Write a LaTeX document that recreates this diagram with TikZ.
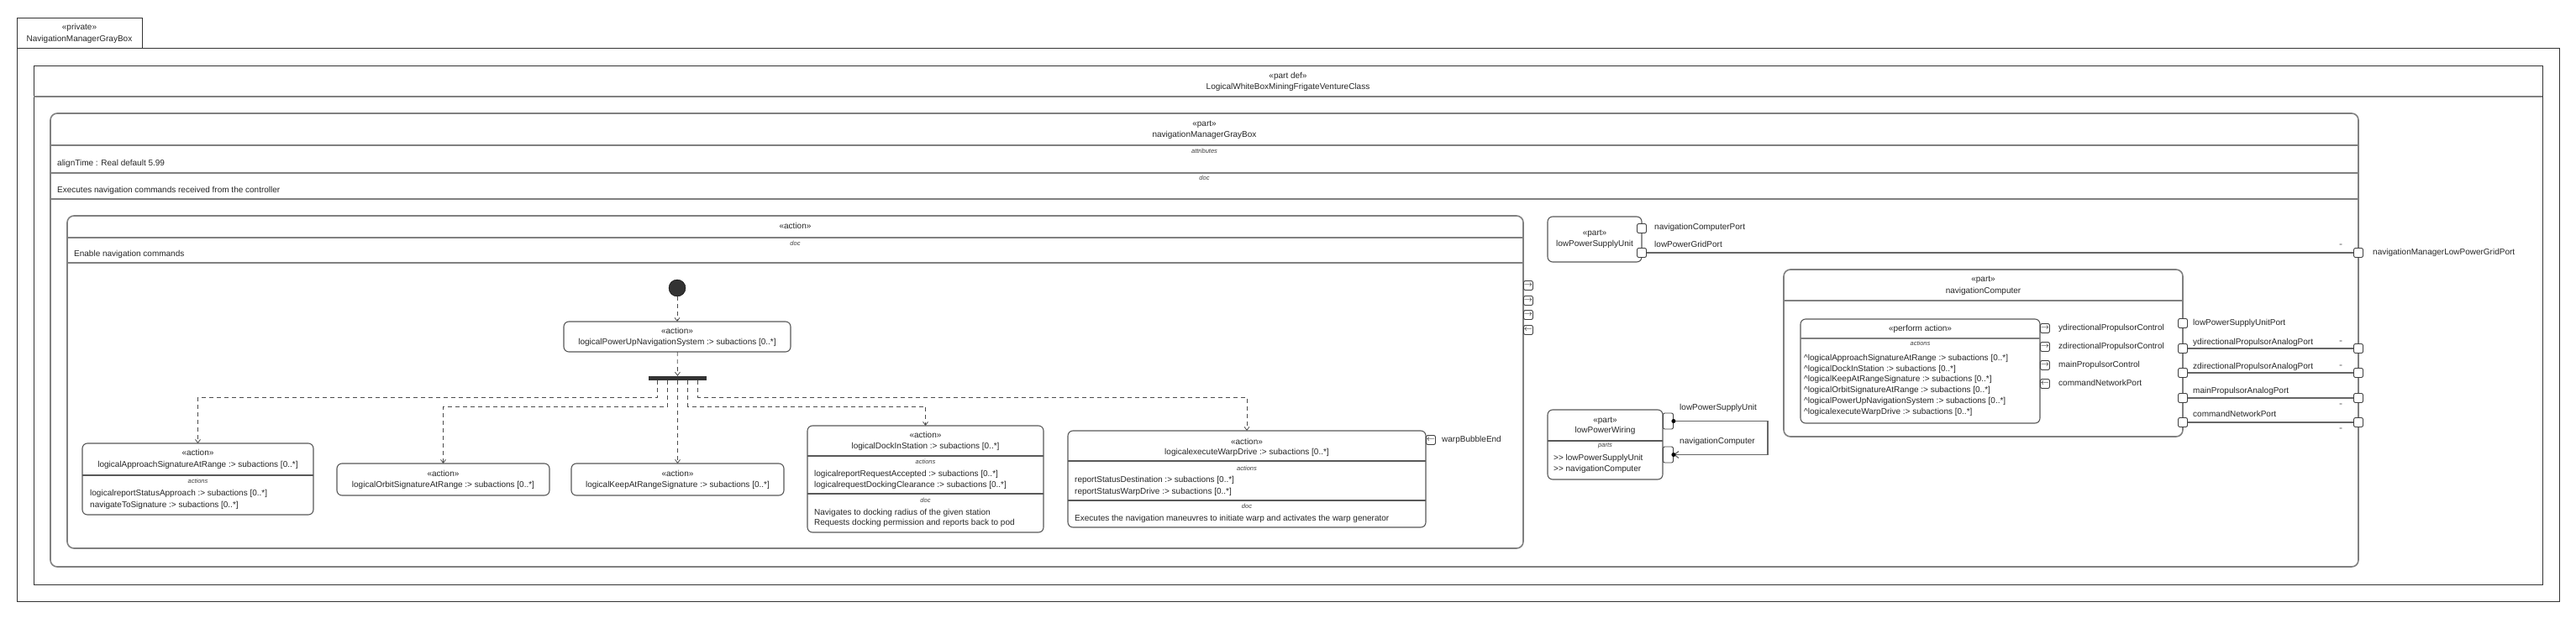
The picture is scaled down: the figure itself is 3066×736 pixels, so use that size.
\documentclass[tikz,border=0pt]{standalone}
\usepackage{fontspec}
\setmainfont{Liberation Sans}
\usetikzlibrary{arrows.meta, positioning, calc}

\tikzset{
  frame/.style={draw=black!80, line width=1pt, inner sep=0pt, outer sep=0pt, anchor=north west},
  partbox/.style={draw=black!50, line width=1.6pt, rounded corners=8pt, fill=white, inner sep=0pt, outer sep=0pt, anchor=north west},
  actbox/.style={draw=black!65, line width=1.1pt, rounded corners=6pt, fill=white, inner sep=0pt, outer sep=0pt, anchor=north west},
  actnode/.style={actbox, anchor=center, align=center, font=\fontsize{10}{13}\selectfont, text=black!85},
  sep/.style={draw=black!50, line width=1.6pt},
  septhin/.style={draw=black!65, line width=1.1pt},
  txt/.style={inner sep=0pt, text height=7.5pt, text depth=2pt, font=\fontsize{10}{12}\selectfont, text=black!85},
  ltxt/.style={txt, anchor=west},
  tag/.style={inner sep=0pt, font=\fontsize{7.5}{9}\selectfont\itshape, text=black!75},
  port/.style={draw=black!75, line width=0.9pt, rounded corners=2pt, fill=white, minimum size=11pt, inner sep=0pt},
  dirport/.style={port, anchor=west, font=\fontsize{10}{10}\selectfont},
  flow/.style={draw=black!70, line width=0.8pt, dash pattern=on 5pt off 4pt, -{Straight Barb[length=4pt,width=6pt]}},
  wire/.style={draw=black!60, line width=1.2pt},
  eqmark/.style={inner sep=0pt, font=\fontsize{6}{6}\selectfont, text=black!70},
}

\begin{document}
\begin{tikzpicture}[x=1pt, y=-1pt]
\useasboundingbox (0,0) rectangle (3066,736);

% Frame and tab
\node[frame, minimum width=149pt, minimum height=36pt] (tab) at (20,21) {};
\node[txt] (tabst) at (94.5,33) {«private»};
\node[txt] (tabname) at (94.5,47) {NavigationManagerGrayBox};
\node[frame, minimum width=3026pt, minimum height=659pt] (outer) at (20,57) {};

% Part definition
\node[frame, minimum width=2986pt, minimum height=618pt] (partdef) at (40,78) {};
\draw[sep] (40,115) -- (3026,115);
\node[txt] (partdefst) at (1533,91) {«part def»};
\node[txt] (partdefname) at (1533,104) {LogicalWhiteBoxMiningFrigateVentureClass};

% navigationManagerGrayBox
\node[partbox, minimum width=2747pt, minimum height=540pt] (nmgb) at (60,135) {};
\node[txt] (nmgbst) at (1433.5,148) {«part»};
\node[txt] (nmgbname) at (1433.5,161) {navigationManagerGrayBox};
\draw[sep] (60,173) -- (2807,173);
\node[tag] (nmgbattr) at (1433.5,180) {attributes};
\node[ltxt] (aligntime) at (68,195) {alignTime : Real default 5.99};
\draw[sep] (60,206) -- (2807,206);
\node[tag] (nmgbdoc) at (1433.5,212) {doc};
\node[ltxt] (nmgbdoctext) at (68,227) {Executes navigation commands received from the controller};
\draw[sep] (60,237) -- (2807,237);

% Enable navigation commands
\node[partbox, minimum width=1733pt, minimum height=396pt] (enable) at (80,257) {};
\node[txt] (enablest) at (946.5,270) {«action»};
\draw[sep] (80,283) -- (1813,283);
\node[tag] (enabledoc) at (946.5,290) {doc};
\node[ltxt] (enabledoctext) at (88,303) {Enable navigation commands};
\draw[sep] (80,313) -- (1813,313);
\node[dirport] (enport1) at (1813,340) {$\rightarrow$};
\node[dirport] (enport2) at (1813,358) {$\rightarrow$};
\node[dirport] (enport3) at (1813,375) {$\rightarrow$};
\node[dirport] (enport4) at (1813,393) {$\leftarrow$};

% Start, power up, fork
\node[circle, fill=black!80, draw=black, minimum size=20pt, inner sep=0pt] (start) at (806,343) {};
\node[actnode, minimum width=270pt, minimum height=36pt] (powerup) at (806,401) {«action»\\logicalPowerUpNavigationSystem :> subactions [0..*]};
\node[fill=black!80, minimum width=69pt, minimum height=5pt, inner sep=0pt] (fork) at (806.5,450.5) {};

% Approach
\node[actbox, minimum width=275pt, minimum height=85pt] (approach) at (98,528) {};
\node[txt] (approachst) at (235.5,540) {«action»};
\node[txt] (approachname) at (235.5,554) {logicalApproachSignatureAtRange :> subactions [0..*]};
\draw[septhin] (98,566) -- (373,566);
\node[tag] (approachacts) at (235.5,573) {actions};
\node[ltxt] (approacha1) at (107,588) {logicalreportStatusApproach :> subactions [0..*]};
\node[ltxt] (approacha2) at (107,602) {navigateToSignature :> subactions [0..*]};

% Orbit, keep
\node[actnode, minimum width=253pt, minimum height=38pt] (orbit) at (527.5,571) {«action»\\logicalOrbitSignatureAtRange :> subactions [0..*]};
\node[actnode, minimum width=253pt, minimum height=38pt] (keep) at (806.5,571) {«action»\\logicalKeepAtRangeSignature :> subactions [0..*]};

% Dock
\node[actbox, minimum width=281pt, minimum height=127pt] (dock) at (961,507) {};
\node[txt] (dockst) at (1101.5,519) {«action»};
\node[txt] (dockname) at (1101.5,532) {logicalDockInStation :> subactions [0..*]};
\draw[septhin] (961,543) -- (1242,543);
\node[tag] (dockacts) at (1101.5,550) {actions};
\node[ltxt] (docka1) at (969,565) {logicalreportRequestAccepted :> subactions [0..*]};
\node[ltxt] (docka2) at (969,578) {logicalrequestDockingClearance :> subactions [0..*]};
\draw[septhin] (961,588) -- (1242,588);
\node[tag] (dockdoc) at (1101.5,596) {doc};
\node[ltxt] (dockd1) at (969,611) {Navigates to docking radius of the given station};
\node[ltxt] (dockd2) at (969,623) {Requests docking permission and reports back to pod};

% Warp
\node[actbox, minimum width=426pt, minimum height=115pt] (warp) at (1271,513) {};
\node[txt] (warpst) at (1484,527) {«action»};
\node[txt] (warpname) at (1484,539) {logicalexecuteWarpDrive :> subactions [0..*]};
\draw[septhin] (1271,549) -- (1697,549);
\node[tag] (warpacts) at (1484,558) {actions};
\node[ltxt] (warpa1) at (1279,572) {reportStatusDestination :> subactions [0..*]};
\node[ltxt] (warpa2) at (1279,586) {reportStatusWarpDrive :> subactions [0..*]};
\draw[septhin] (1271,596) -- (1697,596);
\node[tag] (warpdoc) at (1484,603) {doc};
\node[ltxt] (warpd1) at (1279,618) {Executes the navigation maneuvres to initiate warp and activates the warp generator};
\node[dirport] (warpend) at (1697,524) {$\leftarrow$};
\node[ltxt] (warpendlbl) at (1716,524) {warpBubbleEnd};

% Control flow
\draw[flow] (start) -- (powerup);
\draw[flow] (powerup) -- (fork);
\draw[flow] ([xshift=-24pt]fork.south) -- ++(0,20) -| (approach.north);
\draw[flow] ([xshift=-12pt]fork.south) -- ++(0,31) -| (orbit.north);
\draw[flow] (fork.south) -- (keep.north);
\draw[flow] ([xshift=12pt]fork.south) -- ++(0,31) -| (dock.north);
\draw[flow] ([xshift=24pt]fork.south) -- ++(0,20) -| (warp.north);

% lowPowerSupplyUnit
\node[actnode, minimum width=112pt, minimum height=54pt] (lpsu) at (1898,285) {«part»\\lowPowerSupplyUnit};
\node[port] (lpsuncp) at (1954,272) {};
\node[port] (lpsulgp) at (1954,301) {};
\node[ltxt] (lpsuncplbl) at (1969,271) {navigationComputerPort};
\node[ltxt] (lpsulgplbl) at (1969,292) {lowPowerGridPort};

% lowPowerWiring
\node[actbox, minimum width=137pt, minimum height=83pt] (lpw) at (1842,488) {};
\node[txt] (lpwst) at (1910.5,501) {«part»};
\node[txt] (lpwname) at (1910.5,513) {lowPowerWiring};
\draw[septhin] (1842,525) -- (1979,525);
\node[tag] (lpwparts) at (1910.5,531) {parts};
\node[ltxt] (lpwp1txt) at (1849,546) {>{}> lowPowerSupplyUnit};
\node[ltxt] (lpwp2txt) at (1849,559) {>{}> navigationComputer};
\node[port, minimum width=12pt, minimum height=19pt, anchor=west] (lpwend1) at (1979,501.5) {};
\node[port, minimum width=12pt, minimum height=19pt, anchor=west] (lpwend2) at (1979,541.5) {};
\node[ltxt] (lpwend1lbl) at (1999,486) {lowPowerSupplyUnit};
\node[ltxt] (lpwend2lbl) at (1999,526) {navigationComputer};
\draw[wire, -{Straight Barb[length=5pt,width=8pt]}] (lpwend1.east) -- ++(112,0) |- (lpwend2.east);
\fill[black] (lpwend1.east) circle (2.5pt);
\fill[black] (lpwend2.east) circle (2.5pt);

% navigationComputer
\node[partbox, minimum width=475pt, minimum height=199pt] (navcomp) at (2123,321) {};
\node[txt] (navcompst) at (2360.5,333) {«part»};
\node[txt] (navcompname) at (2360.5,347) {navigationComputer};
\draw[sep] (2123,358) -- (2598,358);
\node[actbox, minimum width=285pt, minimum height=124pt] (perform) at (2143,380) {};
\node[txt] (performst) at (2285.5,392) {«perform action»};
\draw[sep] (2143,403) -- (2428,403);
\node[tag] (performacts) at (2285.5,409) {actions};
\node[ltxt] (perf1) at (2147,427) {\textasciicircum logicalApproachSignatureAtRange :> subactions [0..*]};
\node[ltxt] (perf2) at (2147,440) {\textasciicircum logicalDockInStation :> subactions [0..*]};
\node[ltxt] (perf3) at (2147,452) {\textasciicircum logicalKeepAtRangeSignature :> subactions [0..*]};
\node[ltxt] (perf4) at (2147,465) {\textasciicircum logicalOrbitSignatureAtRange :> subactions [0..*]};
\node[ltxt] (perf5) at (2147,478) {\textasciicircum logicalPowerUpNavigationSystem :> subactions [0..*]};
\node[ltxt] (perf6) at (2147,491) {\textasciicircum logicalexecuteWarpDrive :> subactions [0..*]};
\node[dirport] (perfport1) at (2428,391) {$\rightarrow$};
\node[dirport] (perfport2) at (2428,413) {$\rightarrow$};
\node[dirport] (perfport3) at (2428,435) {$\rightarrow$};
\node[dirport] (perfport4) at (2428,457) {$\leftarrow$};
\node[ltxt] (perfport1lbl) at (2450,391) {ydirectionalPropulsorControl};
\node[ltxt] (perfport2lbl) at (2450,413) {zdirectionalPropulsorControl};
\node[ltxt] (perfport3lbl) at (2450,435) {mainPropulsorControl};
\node[ltxt] (perfport4lbl) at (2450,457) {commandNetworkPort};

% navigationComputer ports
\node[port] (ncpower) at (2598,385) {};
\node[port] (ncydir) at (2598,415) {};
\node[port] (nczdir) at (2598,444) {};
\node[port] (ncmain) at (2598,474) {};
\node[port] (nccmd) at (2598,503) {};
\node[ltxt] (ncpowerlbl) at (2610,385) {lowPowerSupplyUnitPort};
\node[ltxt] (ncydirlbl) at (2610,408) {ydirectionalPropulsorAnalogPort};
\node[ltxt] (nczdirlbl) at (2610,437) {zdirectionalPropulsorAnalogPort};
\node[ltxt] (ncmainlbl) at (2610,466) {mainPropulsorAnalogPort};
\node[ltxt] (nccmdlbl) at (2610,494) {commandNetworkPort};

% Boundary ports
\node[port] (nmlgp) at (2807,301) {};
\node[port] (nmydir) at (2807,415) {};
\node[port] (nmzdir) at (2807,444) {};
\node[port] (nmmain) at (2807,474) {};
\node[port] (nmcmd) at (2807,503) {};
\node[ltxt] (nmlgplbl) at (2824,301) {navigationManagerLowPowerGridPort};

% Bindings
\draw[wire] (lpsulgp) -- (nmlgp);
\draw[wire] (ncydir) -- (nmydir);
\draw[wire] (nczdir) -- (nmzdir);
\draw[wire] (ncmain) -- (nmmain);
\draw[wire] (nccmd) -- (nmcmd);
\node[eqmark] (eq0) at (2786,292) {=};
\node[eqmark] (eq1) at (2786,407) {=};
\node[eqmark] (eq2) at (2786,436) {=};
\node[eqmark] (eq3) at (2786,482) {=};
\node[eqmark] (eq4) at (2786,511) {=};
\end{tikzpicture}
\end{document}
